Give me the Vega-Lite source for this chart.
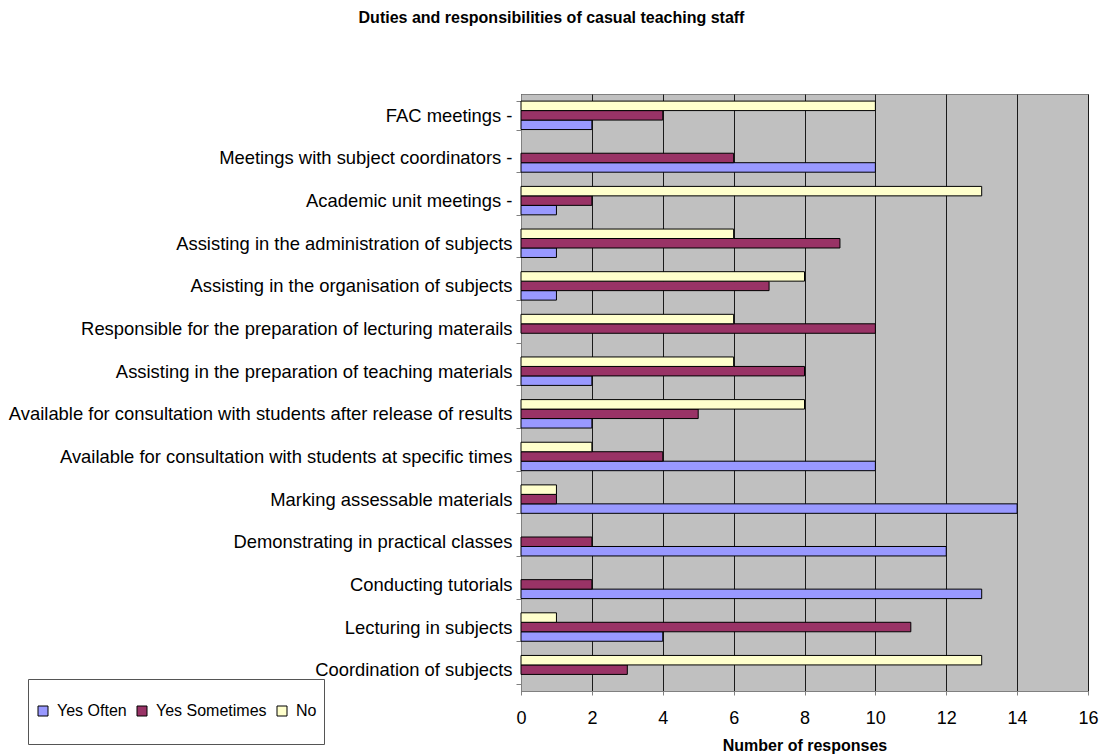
{
  "$schema": "https://vega.github.io/schema/vega-lite/v6.json",
  "autosize": {"type": "none"},
  "width": 567,
  "height": 597,
  "padding": {"left": 521, "top": 94, "right": 15, "bottom": 65},
  "background": "white",
  "title": {
    "text": "Duties and responsibilities of casual teaching staff",
    "font": "Liberation Sans",
    "fontSize": 16,
    "fontWeight": "bold",
    "color": "black",
    "anchor": "middle",
    "dx": -253,
    "offset": 59
  },
  "data": {
    "values": [
      {"task": "FAC meetings -", "series": "Yes Often", "value": 2},
      {"task": "FAC meetings -", "series": "Yes Sometimes", "value": 4},
      {"task": "FAC meetings -", "series": "No", "value": 10},
      {"task": "Meetings with subject coordinators -", "series": "Yes Often", "value": 10},
      {"task": "Meetings with subject coordinators -", "series": "Yes Sometimes", "value": 6},
      {"task": "Academic unit meetings -", "series": "Yes Often", "value": 1},
      {"task": "Academic unit meetings -", "series": "Yes Sometimes", "value": 2},
      {"task": "Academic unit meetings -", "series": "No", "value": 13},
      {"task": "Assisting in the administration of subjects", "series": "Yes Often", "value": 1},
      {"task": "Assisting in the administration of subjects", "series": "Yes Sometimes", "value": 9},
      {"task": "Assisting in the administration of subjects", "series": "No", "value": 6},
      {"task": "Assisting in the organisation of subjects", "series": "Yes Often", "value": 1},
      {"task": "Assisting in the organisation of subjects", "series": "Yes Sometimes", "value": 7},
      {"task": "Assisting in the organisation of subjects", "series": "No", "value": 8},
      {"task": "Responsible for the preparation of lecturing materails", "series": "Yes Sometimes", "value": 10},
      {"task": "Responsible for the preparation of lecturing materails", "series": "No", "value": 6},
      {"task": "Assisting in the preparation of teaching materials", "series": "Yes Often", "value": 2},
      {"task": "Assisting in the preparation of teaching materials", "series": "Yes Sometimes", "value": 8},
      {"task": "Assisting in the preparation of teaching materials", "series": "No", "value": 6},
      {"task": "Available for consultation with students after release of results", "series": "Yes Often", "value": 2},
      {"task": "Available for consultation with students after release of results", "series": "Yes Sometimes", "value": 5},
      {"task": "Available for consultation with students after release of results", "series": "No", "value": 8},
      {"task": "Available for consultation with students at specific times", "series": "Yes Often", "value": 10},
      {"task": "Available for consultation with students at specific times", "series": "Yes Sometimes", "value": 4},
      {"task": "Available for consultation with students at specific times", "series": "No", "value": 2},
      {"task": "Marking assessable materials", "series": "Yes Often", "value": 14},
      {"task": "Marking assessable materials", "series": "Yes Sometimes", "value": 1},
      {"task": "Marking assessable materials", "series": "No", "value": 1},
      {"task": "Demonstrating in practical classes", "series": "Yes Often", "value": 12},
      {"task": "Demonstrating in practical classes", "series": "Yes Sometimes", "value": 2},
      {"task": "Conducting tutorials", "series": "Yes Often", "value": 13},
      {"task": "Conducting tutorials", "series": "Yes Sometimes", "value": 2},
      {"task": "Lecturing in subjects", "series": "Yes Often", "value": 4},
      {"task": "Lecturing in subjects", "series": "Yes Sometimes", "value": 11},
      {"task": "Lecturing in subjects", "series": "No", "value": 1},
      {"task": "Coordination of subjects", "series": "Yes Sometimes", "value": 3},
      {"task": "Coordination of subjects", "series": "No", "value": 13}
    ]
  },
  "mark": {"type": "bar", "stroke": "black", "strokeWidth": 1},
  "encoding": {
    "y": {
      "field": "task",
      "type": "nominal",
      "sort": [
        "FAC meetings -",
        "Meetings with subject coordinators -",
        "Academic unit meetings -",
        "Assisting in the administration of subjects",
        "Assisting in the organisation of subjects",
        "Responsible for the preparation of lecturing materails",
        "Assisting in the preparation of teaching materials",
        "Available for consultation with students after release of results",
        "Available for consultation with students at specific times",
        "Marking assessable materials",
        "Demonstrating in practical classes",
        "Conducting tutorials",
        "Lecturing in subjects",
        "Coordination of subjects"
      ],
      "scale": {"paddingInner": 0.333, "paddingOuter": 0.1667},
      "axis": {
        "title": null,
        "labelFont": "Liberation Sans",
        "labelFontSize": 18.4,
        "labelColor": "black",
        "labelPadding": 4,
        "labelLimit": 700,
        "tickSize": 5,
        "tickColor": "#808080",
        "tickBand": "extent",
        "domainColor": "#808080",
        "grid": false
      }
    },
    "yOffset": {
      "field": "series",
      "type": "nominal",
      "sort": ["No", "Yes Sometimes", "Yes Often"],
      "scale": {"paddingInner": 0, "paddingOuter": 0}
    },
    "x": {
      "field": "value",
      "type": "quantitative",
      "scale": {"domain": [0, 16], "nice": false},
      "axis": {
        "title": "Number of responses",
        "titleFont": "Liberation Sans",
        "titleFontSize": 16,
        "titleFontWeight": "bold",
        "titleColor": "black",
        "titlePadding": 10,
        "values": [0, 2, 4, 6, 8, 10, 12, 14, 16],
        "labelFont": "Liberation Sans",
        "labelFontSize": 18,
        "labelColor": "black",
        "labelPadding": 14,
        "labelFlush": false,
        "labelOverlap": false,
        "tickSize": 4,
        "tickColor": "#808080",
        "domainColor": "#808080",
        "grid": true,
        "gridColor": "#1a1a1a",
        "gridWidth": 1,
        "gridOpacity": 1
      }
    },
    "color": {
      "field": "series",
      "type": "nominal",
      "scale": {
        "domain": ["Yes Often", "Yes Sometimes", "No"],
        "range": ["#9999FF", "#993366", "#FFFFCC"]
      },
      "legend": {
        "title": " ",
        "titleFontSize": 13,
        "titlePadding": 4,
        "titleOrient": "top",
        "orient": "none",
        "legendX": -493,
        "legendY": 585,
        "direction": "horizontal",
        "symbolType": "square",
        "symbolSize": 100,
        "symbolStrokeColor": "black",
        "symbolStrokeWidth": 1,
        "labelFont": "Liberation Sans",
        "labelFontSize": 16,
        "labelColor": "black",
        "labelOffset": 6,
        "labelExpr": "[datum.label, '']",
        "columnPadding": 7,
        "fillColor": "white",
        "strokeColor": "#555555",
        "padding": 7
      }
    }
  },
  "config": {
    "view": {"fill": "#C0C0C0", "stroke": "#808080", "strokeWidth": 1}
  }
}
